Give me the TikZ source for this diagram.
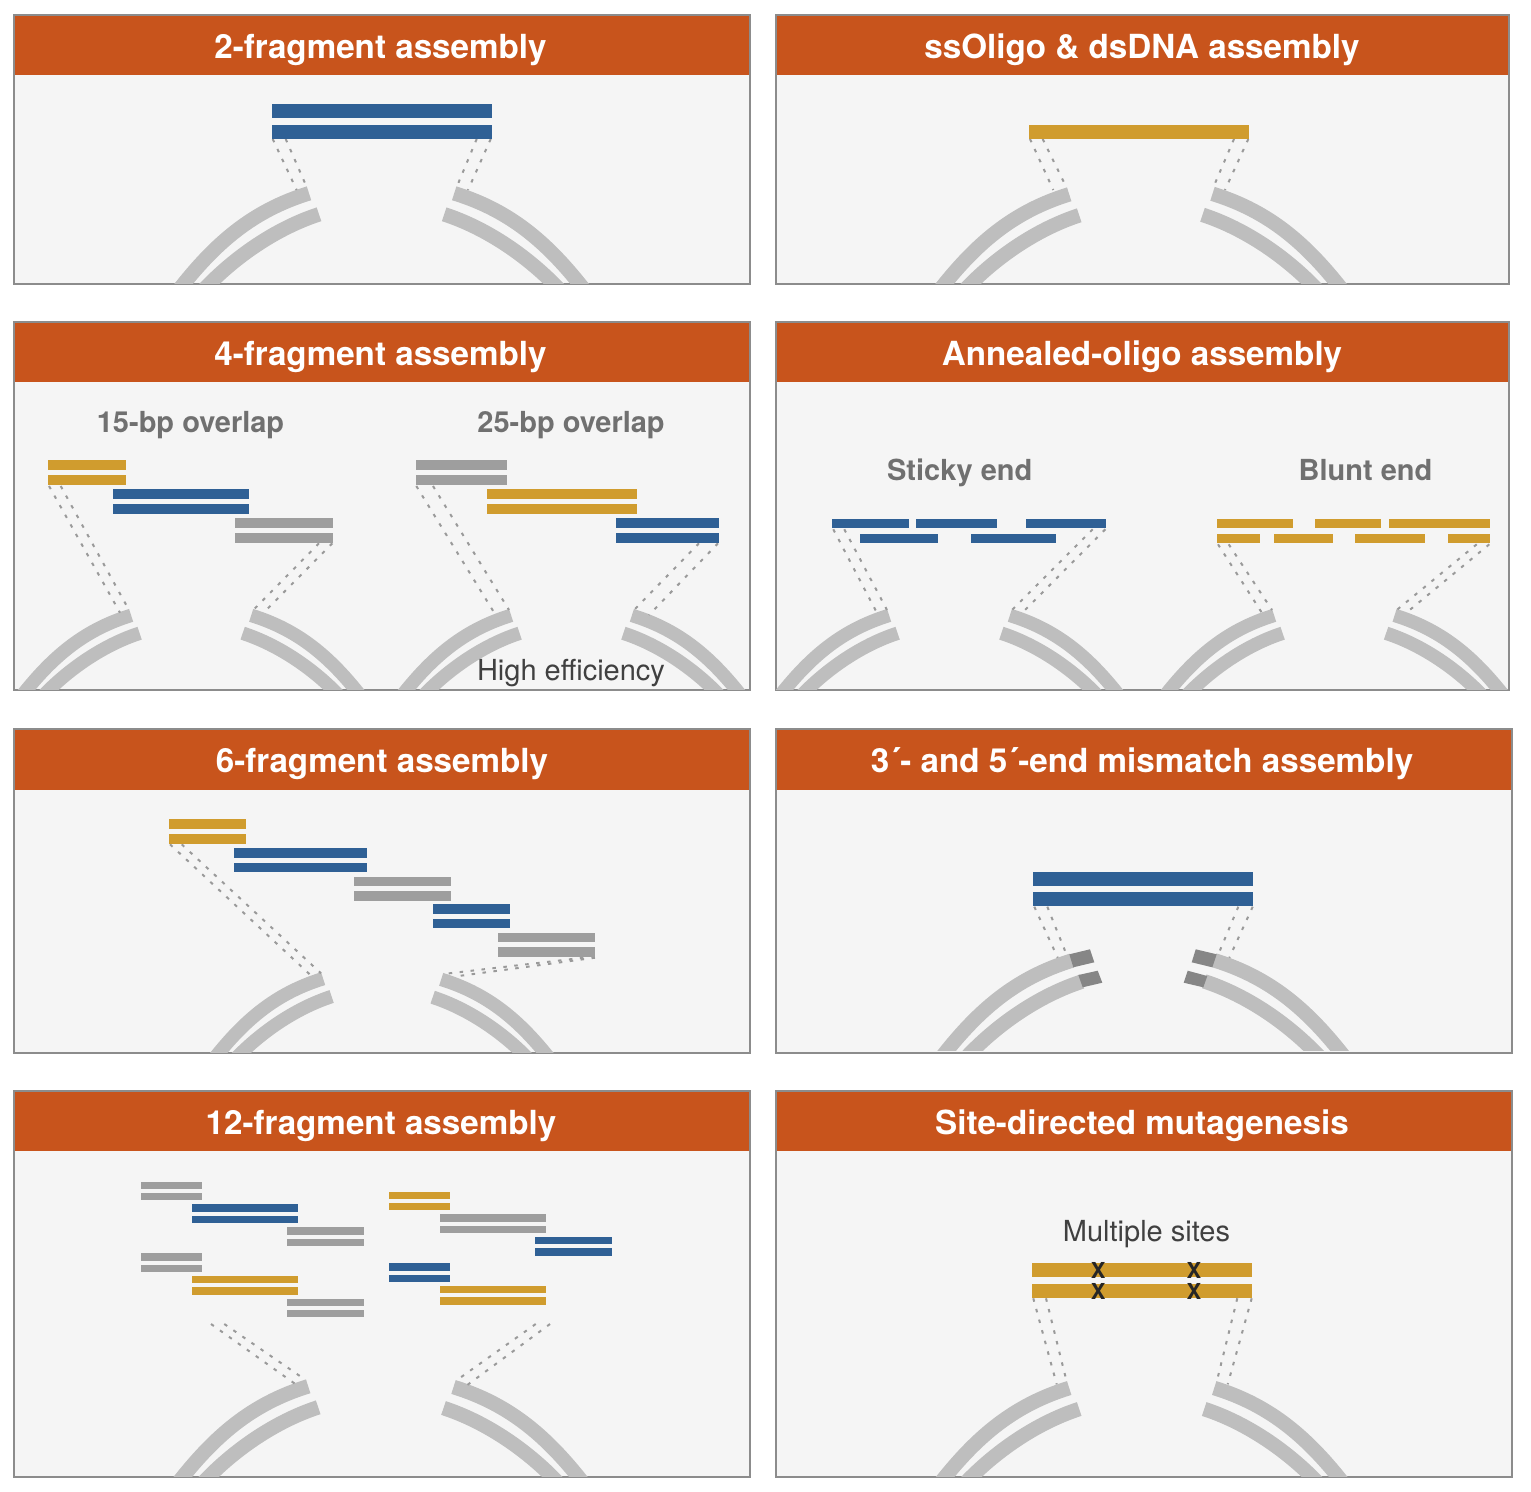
\documentclass[tikz,border=0pt]{standalone}
\usepackage{fontspec}
\setmainfont{TeX Gyre Heros}
\definecolor{hdr}{HTML}{C8541C}
\definecolor{pbg}{HTML}{F5F5F5}
\definecolor{pborder}{HTML}{8C8C8C}
\definecolor{dnablue}{HTML}{2F6095}
\definecolor{dnagold}{HTML}{D09C2E}
\definecolor{dnagray}{HTML}{9E9E9E}
\definecolor{plasmid}{HTML}{BEBEBE}
\definecolor{endgray}{HTML}{868686}
\definecolor{dotgray}{HTML}{9A9A9A}
\definecolor{lblgray}{HTML}{707070}
\definecolor{lbldark}{HTML}{404040}
\tikzset{
  bluebar/.style={fill=dnablue},
  goldbar/.style={fill=dnagold},
  graybar/.style={fill=dnagray},
  dotlink/.style={draw=dotgray,line width=2pt,dash pattern=on 3.5pt off 7.5pt},
  titletext/.style={text=white,font=\bfseries\fontsize{33.2}{36}\selectfont,anchor=base,inner sep=0pt},
  sublabel/.style={text=lblgray,font=\bfseries\fontsize{29}{32}\selectfont,anchor=base,inner sep=0pt},
  darklabel/.style={text=lbldark,font=\fontsize{29}{32}\selectfont,anchor=base,inner sep=0pt},
  xmark/.style={text=black!85,font=\bfseries\fontsize{22}{24}\selectfont,anchor=center,inner sep=0pt},
  endcap/.style={fill=endgray}
}
% name, x1, y1, x2, y2, header bottom, title x, title
\newcommand{\panelbox}[8]{%
  \fill[pbg] (#2,#3) rectangle (#4,#5);
  \fill[hdr] (#2,#3) rectangle (#4,#6);
  \draw[pborder,line width=1.2pt] (#2,#3) rectangle (#4,#5);
  \node[titletext] (#1) at (#7,{(#3+#6)/2+13}) {#8};
}
% corner x, corner y, scale, clip bottom
\newcommand{\arcL}[4]{%
  \begin{scope}
    \clip (0,0) rectangle (1531,#4);
    \begin{scope}[shift={(#1,#2)},x=#3pt,y=-#3pt,draw=plasmid,line width={(7.5+7*#3)*1pt}]
      \draw (2.5,6.3) .. controls (-55,24) and (-92,57) .. (-128.8,104.3);
      \draw (12.5,27.3) .. controls (-30.5,41.3) and (-72,70) .. (-103,103);
    \end{scope}
  \end{scope}
}
\newcommand{\arcR}[4]{%
  \begin{scope}
    \clip (0,0) rectangle (1531,#4);
    \begin{scope}[shift={(#1,#2)},x=#3pt,y=-#3pt,draw=plasmid,line width={(7.5+7*#3)*1pt}]
      \draw (-2.5,6.3) .. controls (55,24) and (92,57) .. (128.8,104.3);
      \draw (-12.5,27.3) .. controls (30.5,41.3) and (72,70) .. (103,103);
    \end{scope}
  \end{scope}
}
\newcommand{\linkpair}[8]{%
  \draw[dotlink] (#1,#2) -- (#3,#4);
  \draw[dotlink] (#5,#6) -- (#7,#8);
}
\begin{document}
\begin{tikzpicture}[x=1pt,y=-1pt]
\useasboundingbox (0,0) rectangle (1531,1491);
\fill[white] (0,0) rectangle (1531,1491);

% ---- Panel 1
\panelbox{t1}{14}{15}{750}{284}{75}{380.5}{2-fragment assembly}
\arcL{306.5}{187}{1}{283}
\arcR{456.7}{187}{1}{283}
\linkpair{272.7}{139}{296.7}{190}{285.7}{139}{306.7}{187}
\linkpair{490.7}{139}{468}{190}{476.7}{139}{456.7}{187}
\fill[bluebar] (271.5,104) rectangle (492,118);
\fill[bluebar] (271.5,125) rectangle (492,139);

% ---- Panel 2
\panelbox{t2}{776}{15}{1509}{284}{75}{1142}{ssOligo \& dsDNA assembly}
\arcL{1066.7}{188}{1}{283}
\arcR{1215}{187.5}{1}{283}
\linkpair{1030}{139}{1053.3}{190}{1042.7}{139}{1066.7}{188}
\linkpair{1248.3}{139}{1225}{190}{1234}{139}{1213.3}{187.3}
\fill[goldbar] (1028.7,124.7) rectangle (1249.3,138.7);

% ---- Panel 3
\panelbox{t3}{14}{322}{750}{690}{382}{380.5}{4-fragment assembly}
\arcL{129}{610}{0.85}{689}
\arcR{253.3}{610}{0.85}{689}
\arcL{509}{610}{0.85}{689}
\arcR{634}{610}{0.85}{689}
\linkpair{49}{486}{120}{612.7}{60.7}{486}{129}{610}
\linkpair{332.3}{543.3}{263}{613.3}{319}{543.3}{253.3}{610}
\linkpair{416.3}{486}{495}{614}{433}{486}{509}{610}
\linkpair{718}{543.3}{649}{615}{699}{543.3}{634}{610}
\fill[goldbar] (48.3,460.3) rectangle (126,470);
\fill[goldbar] (48.3,475) rectangle (126,484.7);
\fill[bluebar] (113.3,489.3) rectangle (248.7,499);
\fill[bluebar] (113.3,504) rectangle (248.7,513.7);
\fill[graybar] (235.3,518.3) rectangle (333,528);
\fill[graybar] (235.3,533) rectangle (333,542.7);
\fill[graybar] (416.3,460.3) rectangle (506.7,470);
\fill[graybar] (416.3,475) rectangle (506.7,484.7);
\fill[goldbar] (486.7,489.3) rectangle (637,499);
\fill[goldbar] (486.7,504) rectangle (637,513.7);
\fill[bluebar] (616,518.3) rectangle (718.7,528);
\fill[bluebar] (616,533) rectangle (718.7,542.7);
\node[sublabel] (l15) at (190.5,432.5) {15-bp overlap};
\node[sublabel] (l25) at (571,432.5) {25-bp overlap};
\node[darklabel] (lhe) at (571,680) {High efficiency};

% ---- Panel 4
\panelbox{t4}{776}{322}{1509}{690}{382}{1142}{Annealed-oligo assembly}
\arcL{887}{610}{0.85}{689}
\arcR{1012}{610}{0.85}{689}
\arcL{1272}{610}{0.85}{689}
\arcR{1396.7}{610}{0.85}{689}
\linkpair{833.3}{529.3}{877}{613}{844.3}{529.3}{887}{610}
\linkpair{1105.3}{529.3}{1022}{613}{1092.7}{529.3}{1012}{610}
\linkpair{1218}{544.3}{1262}{613}{1228.7}{544.3}{1272}{610}
\linkpair{1489.3}{544.3}{1406}{613}{1476.7}{544.3}{1396.7}{610}
\fill[bluebar] (832.3,519) rectangle (908.7,528.3);
\fill[bluebar] (915.7,519) rectangle (996.7,528.3);
\fill[bluebar] (1026,519) rectangle (1105.7,528.3);
\fill[bluebar] (860,533.7) rectangle (937.7,543.3);
\fill[bluebar] (970.7,533.7) rectangle (1056.3,543.3);
\fill[goldbar] (1217,519) rectangle (1293,528.3);
\fill[goldbar] (1315.3,519) rectangle (1381.3,528.3);
\fill[goldbar] (1389.3,519) rectangle (1490.3,528.3);
\fill[goldbar] (1217,533.7) rectangle (1259.7,543.3);
\fill[goldbar] (1274.3,533.7) rectangle (1332.7,543.3);
\fill[goldbar] (1355.3,533.7) rectangle (1424.7,543.3);
\fill[goldbar] (1447.7,533.7) rectangle (1490.3,543.3);
\node[sublabel] (lst) at (959.7,480) {Sticky end};
\node[sublabel] (lbl) at (1365.5,480) {Blunt end};

% ---- Panel 5
\panelbox{t5}{14}{729}{750}{1053}{790}{382}{6-fragment assembly}
\arcL{321}{973.3}{0.85}{1052}
\arcR{443.3}{974}{0.85}{1052}
\linkpair{170}{844.3}{312.3}{976.7}{181.7}{844.3}{321}{973.3}
\linkpair{595}{957.7}{453.3}{976.7}{583.3}{957.7}{443.3}{974}
\fill[goldbar] (169.3,819.3) rectangle (246,829.3);
\fill[goldbar] (169.3,834) rectangle (246,843.7);
\fill[bluebar] (233.7,848.3) rectangle (367.3,857.7);
\fill[bluebar] (233.7,862.7) rectangle (367.3,872);
\fill[graybar] (354,877) rectangle (450.7,886.3);
\fill[graybar] (354,891.3) rectangle (450.7,900.7);
\fill[bluebar] (433.3,904.3) rectangle (510,914);
\fill[bluebar] (433.3,919) rectangle (510,928.3);
\fill[graybar] (497.7,933) rectangle (595,942.3);
\fill[graybar] (497.7,947.3) rectangle (595,957);

% ---- Panel 6
\panelbox{t6}{776}{729}{1512}{1053}{790}{1142}{3´- and 5´-end mismatch assembly}
\arcL{1069.3}{954.3}{1}{1050.5}
\arcR{1216.7}{954}{1}{1050.5}
\fill[endcap] (1069.3,954.3) -- (1090,949.3) -- (1094.3,962.3) -- (1073.3,967.3) -- cycle;
\fill[endcap] (1078.3,975) -- (1097.7,970.7) -- (1102.3,982.7) -- (1082.7,987.3) -- cycle;
\fill[endcap] (1195.7,949.3) -- (1216.7,954.3) -- (1212.3,967.3) -- (1191.7,962.3) -- cycle;
\fill[endcap] (1187.7,970.7) -- (1207.3,976) -- (1203.3,987.3) -- (1183.7,982.7) -- cycle;
\linkpair{1034.3}{906.7}{1057.7}{957.7}{1047.3}{906.7}{1066.7}{955}
\linkpair{1252.7}{906.7}{1229.3}{957.7}{1238.3}{906.7}{1218.3}{954.3}
\fill[bluebar] (1032.7,872) rectangle (1253.3,885.7);
\fill[bluebar] (1032.7,892) rectangle (1253.3,905.7);

% ---- Panel 7
\panelbox{t7}{14}{1091}{750}{1477}{1151}{381}{12-fragment assembly}
\arcL{305.7}{1380}{1}{1476}
\arcR{456}{1380.7}{1}{1476}
\linkpair{211}{1324}{295.7}{1384.3}{224.3}{1324}{305.7}{1380}
\linkpair{550}{1324}{467.3}{1385}{535.7}{1324}{456}{1380.7}
\fill[graybar] (140.7,1181.7) rectangle (201.7,1189);
\fill[graybar] (140.7,1193) rectangle (201.7,1200.3);
\fill[bluebar] (192,1204.3) rectangle (297.7,1211.7);
\fill[bluebar] (192,1216) rectangle (297.7,1223.3);
\fill[graybar] (287.3,1227.3) rectangle (364,1234.7);
\fill[graybar] (287.3,1238.7) rectangle (364,1246);
\fill[graybar] (140.7,1253.3) rectangle (201.7,1260.7);
\fill[graybar] (140.7,1264.7) rectangle (201.7,1272);
\fill[goldbar] (192,1276) rectangle (297.7,1283.3);
\fill[goldbar] (192,1287.3) rectangle (297.7,1295);
\fill[graybar] (287.3,1298.7) rectangle (364,1306);
\fill[graybar] (287.3,1310) rectangle (364,1317.3);
\fill[goldbar] (388.7,1191.7) rectangle (449.7,1199);
\fill[goldbar] (388.7,1203) rectangle (449.7,1210.3);
\fill[graybar] (440,1214.3) rectangle (545.7,1221.7);
\fill[graybar] (440,1225.7) rectangle (545.7,1233);
\fill[bluebar] (535.3,1236.7) rectangle (612,1244);
\fill[bluebar] (535.3,1248.3) rectangle (612,1256);
\fill[bluebar] (388.7,1263.3) rectangle (449.7,1270.7);
\fill[bluebar] (388.7,1274.7) rectangle (449.7,1282);
\fill[goldbar] (440,1286) rectangle (545.7,1293.3);
\fill[goldbar] (440,1297.3) rectangle (545.7,1304.7);

% ---- Panel 8
\panelbox{t8}{776}{1091}{1512}{1477}{1151}{1142}{Site-directed mutagenesis}
\arcL{1066.7}{1381.7}{1}{1476}
\arcR{1216.7}{1381.7}{1}{1476}
\linkpair{1033.3}{1298.3}{1056.7}{1384.3}{1046}{1298.3}{1066.7}{1381.7}
\linkpair{1251.7}{1298.3}{1227.7}{1384.3}{1237.3}{1298.3}{1216.7}{1381.7}
\fill[goldbar] (1032,1262.7) rectangle (1252.3,1276.7);
\fill[goldbar] (1032,1283.7) rectangle (1252.3,1297.7);
\node[xmark] (x1) at (1098.3,1270) {X};
\node[xmark] (x2) at (1194,1270) {X};
\node[xmark] (x3) at (1098.3,1291) {X};
\node[xmark] (x4) at (1194,1291) {X};
\node[darklabel] (lms) at (1146.5,1241) {Multiple sites};
\end{tikzpicture}
\end{document}
